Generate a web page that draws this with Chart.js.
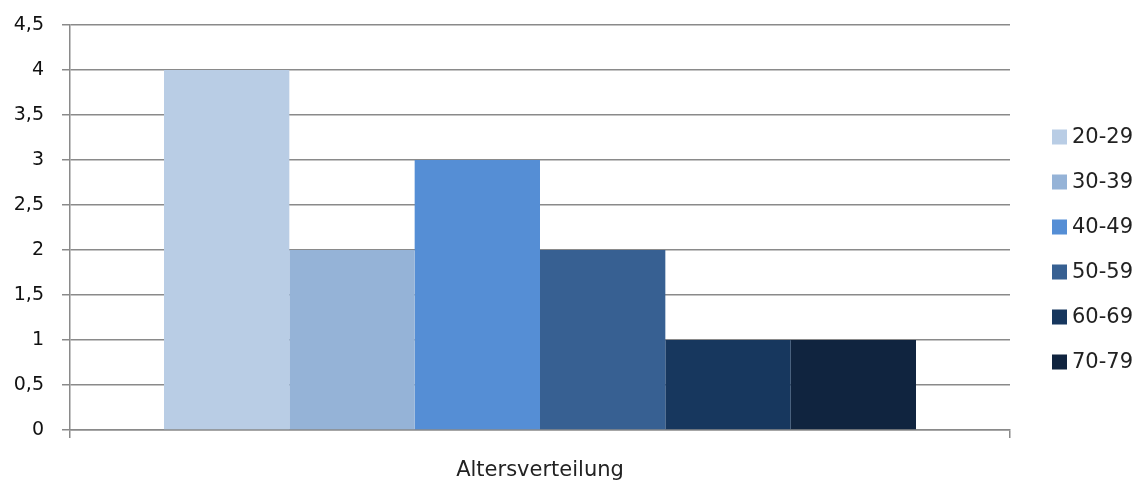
<!DOCTYPE html>
<html>
<head>
<meta charset="utf-8">
<script src="https://cdn.jsdelivr.net/npm/chart.js@4/dist/chart.umd.min.js"></script>
<style>
html,body{margin:0;padding:0;background:#fff;}
#wrap{width:1144px;height:484px;position:relative;}
</style>
</head>
<body>
<div id="wrap"><canvas id="chart-alter"></canvas></div>
<script>
// Altersverteilung - one category, one dataset per age group
const categories=['Altersverteilung'];
const groups=['20-29','30-39','40-49','50-59','60-69','70-79'];
const counts=[4,2,3,2,1,1];
const colors=['#b9cde5','#95b3d7','#558ed5','#376092','#17375e','#10243f'];
const yTicks=[0,0.5,1,1.5,2,2.5,3,3.5,4,4.5];

const gridColor='#8a8a8a';
const font='"DejaVu Sans", sans-serif';

// legend drawn by hand so spacing matches the office-style legend
const sideLegend={
  id:'sideLegend',
  afterDraw(chart){
    const ctx=chart.ctx;
    const x=1052, y0=137, step=45, box=15;
    ctx.save();
    ctx.font='21px '+font;
    ctx.textBaseline='middle';
    ctx.textAlign='left';
    chart.data.datasets.forEach((ds,i)=>{
      const y=y0+i*step;
      ctx.fillStyle=ds.backgroundColor;
      ctx.fillRect(x,y-box/2,box,box);
      ctx.fillStyle='#222';
      ctx.fillText(ds.label,x+20,y+1);
    });
    ctx.restore();
  }
};

new Chart(document.getElementById('chart-alter'),{
  type:'bar',
  data:{
    labels:categories,
    datasets:groups.map((g,i)=>({
      label:g,
      data:[counts[i]],
      backgroundColor:colors[i],
      borderWidth:0,
      categoryPercentage:0.8,
      barPercentage:1.0
    }))
  },
  options:{
    responsive:true,
    maintainAspectRatio:false,
    animation:false,
    layout:{padding:{top:25,right:134,left:0,bottom:0}},
    plugins:{legend:{display:false},tooltip:{enabled:false}},
    scales:{
      x:{
        grid:{display:true,drawOnChartArea:false,offset:true,color:gridColor,lineWidth:1.5,tickLength:8},
        border:{color:gridColor,width:1.5},
        ticks:{color:'#222',padding:20,font:{family:font,size:21}},
        afterFit(s){s.height=54;}
      },
      y:{
        min:0,max:4.5,
        afterBuildTicks(s){s.ticks=yTicks.map(v=>({value:v}));},
        grid:{color:gridColor,lineWidth:1.5,tickLength:8},
        border:{color:gridColor,width:1.5},
        ticks:{
          color:'#111',padding:18,
          font:{family:font,size:19,lineHeight:0.7},
          callback:v=>String(v).replace('.',',')
        },
        afterFit(s){s.width=70;}
      }
    }
  },
  plugins:[sideLegend]
});
</script>
</body>
</html>
